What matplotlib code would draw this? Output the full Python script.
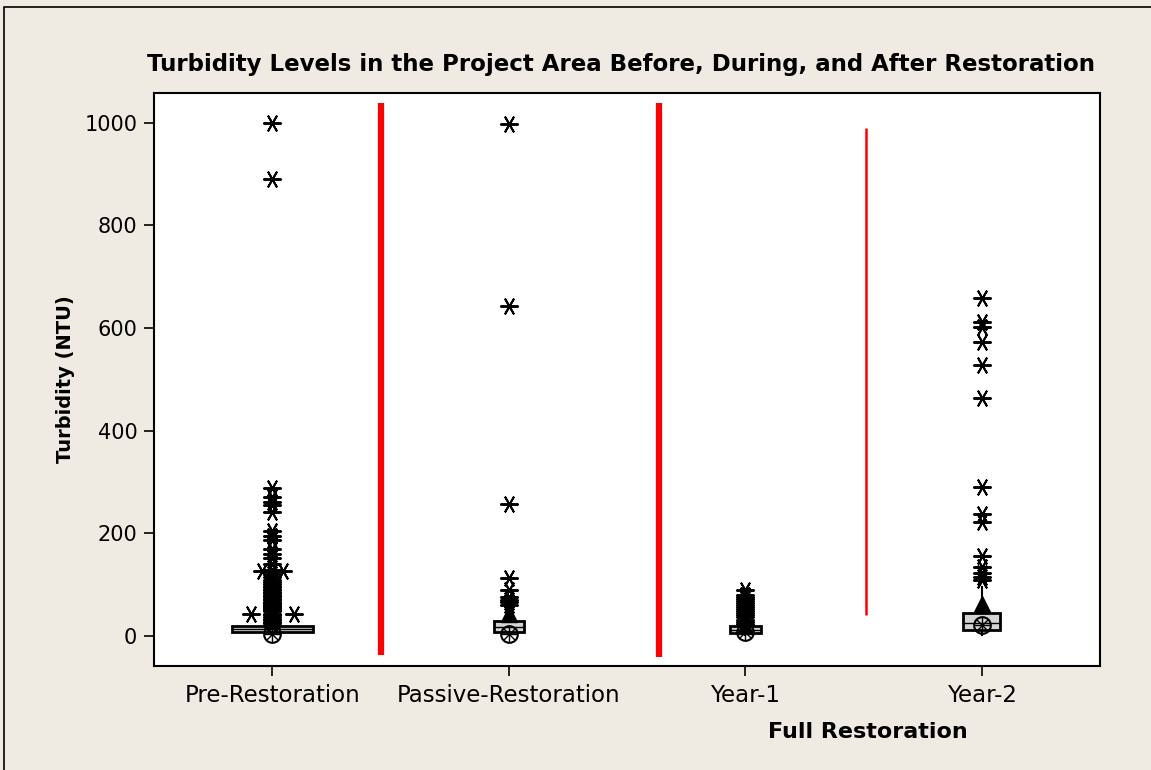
import matplotlib
matplotlib.use("Agg")
import matplotlib.pyplot as plt
from matplotlib.patches import Rectangle
import numpy as np

# Turbidity summaries per period (NTU)
groups = ["Pre-Restoration", "Passive-Restoration", "Year-1", "Year-2"]
q1 = [8, 8, 6, 12]
median = [14, 17, 12, 25]
q3 = [20, 29, 20, 45]
whisker_lo = [1, 1, 1, 2]
whisker_hi = [40, 55, 25, 95]
mean = [30, 43, 20, 62]
center_marker = [4, 3, 8, 21]

pre_outliers = [1000, 891, 288, 270, 262, 255, 241, 204, 195, 187, 169, 160, 152,
                140, 128, 126, 126, 120, 115, 110, 105, 101, 98, 95, 92, 89, 86,
                83, 80, 77, 75, 72, 70, 67, 65, 62, 60, 58, 56, 54, 52, 50, 48,
                43, 43, 43, 40, 37, 34, 31, 28, 25, 22]
passive_outliers = [997, 643, 257, 112, 89, 76, 70, 66, 60]
year1_outliers = [90, 80, 76, 72, 68, 64, 60, 56, 52, 48, 44, 40, 36, 32, 28, 24]
year2_outliers = [658, 612, 603, 572, 528, 463, 290, 238, 222, 155, 135, 122, 115, 110]
outliers = [pre_outliers, passive_outliers, year1_outliers, year2_outliers]

# red dividers between periods: x, y from, y to
divider_x = [1.46, 2.635, 3.51]
divider_y0 = [-37, -41, 41]
divider_y1 = [1039, 1039, 990]

bg = "#EFEBE2"
fig = plt.figure(figsize=(11.51, 7.70), dpi=100, facecolor=bg)
ax = fig.add_axes([154 / 1151, 0.1351, 946 / 1151, 0.7441])
ax.set_facecolor("white")

pos = np.arange(1, len(groups) + 1)
box_widths = [0.342, 0.127, 0.131, 0.156]

stats = []
for i, g in enumerate(groups):
    stats.append(dict(label=g, q1=q1[i], med=median[i], q3=q3[i],
                      whislo=whisker_lo[i], whishi=whisker_hi[i],
                      mean=mean[i], fliers=[]))

ax.bxp(stats, positions=pos, widths=box_widths, patch_artist=True,
       showmeans=True, showcaps=False,
       boxprops=dict(facecolor="#D4D4D4", edgecolor="black", linewidth=2),
       medianprops=dict(color="black", linewidth=1),
       whiskerprops=dict(color="black", linewidth=1.5),
       meanprops=dict(marker="^", markerfacecolor="black",
                      markeredgecolor="black", markersize=12),
       zorder=3)

# median symbol: circle with cross
ax.plot(pos, center_marker, "o", mfc="none", mec="black", ms=12, mew=1.5, zorder=4)
ax.plot(pos, center_marker, "+", color="black", ms=11, mew=1, zorder=4)
ax.plot(pos, center_marker, "x", color="black", ms=8, mew=1, zorder=4)

# outliers, tied values spread sideways
for p, vals in zip(pos, outliers):
    vals = np.asarray(vals, dtype=float)
    xs = np.full(len(vals), float(p))
    for v in np.unique(vals):
        idx = np.where(vals == v)[0]
        n = len(idx)
        if n > 1:
            xs[idx] = p + (np.arange(n) - (n - 1) / 2) * 0.09
    ax.plot(xs, vals, linestyle="none", marker=(6, 2, 90), color="black",
            ms=13, mew=1.4, zorder=5)

lw = [4.5, 4.5, 1.8]
for x, y0, y1, w in zip(divider_x, divider_y0, divider_y1, lw):
    ax.vlines(x, y0, y1, color="red", linewidth=w, zorder=6)

ax.set_xlim(0.5, 4.5)
ax.set_ylim(-58.5, 1058)
ax.set_xticks(pos)
ax.set_xticklabels(groups, fontsize=16.5)
ax.set_yticks(np.arange(0, 1001, 200))
ax.tick_params(axis="y", labelsize=15, length=7, width=1.2, pad=5, direction="out")
ax.tick_params(axis="x", length=7, width=1.2, pad=6, direction="out")
for s in ax.spines.values():
    s.set_linewidth(1.5)

ax.set_ylabel("Turbidity (NTU)", fontsize=14, fontweight="bold", labelpad=7)
ax.set_title("Turbidity Levels in the Project Area Before, During, and After Restoration",
             fontsize=16.5, fontweight="bold", pad=16, x=0.494)
ax.annotate("Full Restoration", xy=(3.52, 0), xycoords=("data", "axes fraction"),
            xytext=(0, -40), textcoords="offset points", ha="center", va="top",
            fontsize=16, fontweight="bold")

fig.patches.append(Rectangle((4 / 1151, -0.05), 1.1, 1.05 - 6.5 / 770,
                             transform=fig.transFigure, fill=False,
                             edgecolor="black", linewidth=1.2))

fig.savefig("out.png", dpi=100, facecolor=bg)
